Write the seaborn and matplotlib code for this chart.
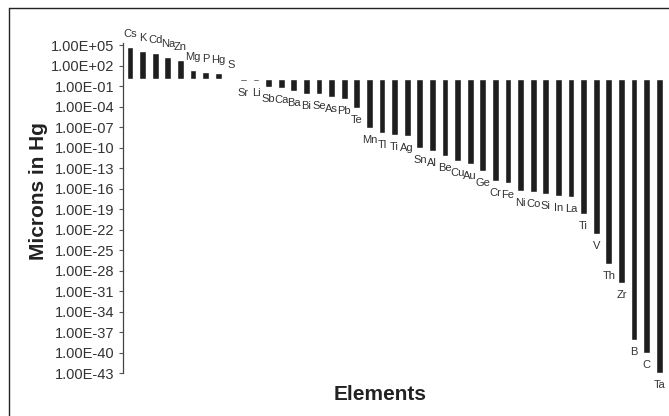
import numpy as np
import pandas as pd
import matplotlib
matplotlib.use('Agg')
import matplotlib.pyplot as plt
from matplotlib.lines import Line2D
import seaborn as sns

# vapour pressure, as log10 of microns Hg (bars hang from 1.00E+00)
elements = ['Cs', 'K', 'Cd', 'Na', 'Zn', 'Mg', 'P', 'Hg', 'S', 'Sr', 'Li',
            'Sb', 'Ca', 'Ba', 'Bi', 'Se', 'As', 'Pb', 'Te', 'Mn', 'Tl', 'Ti',
            'Ag', 'Sn', 'Al', 'Be', 'Cu', 'Au', 'Ge', 'Cr', 'Fe', 'Ni', 'Co',
            'Si', 'In', 'La', 'Ti', 'V', 'Th', 'Zr', 'B', 'C', 'Ta']
log_pressure = [4.7, 4.1, 3.8, 3.2, 2.8, 1.3, 1.0, 0.9, 0.25, -0.25, -0.3,
                -1.1, -1.3, -1.7, -2.2, -2.2, -2.6, -2.9, -4.2, -7.2, -7.9, -8.1,
                -8.3, -10.1, -10.5, -11.3, -12.0, -12.4, -13.5, -14.9, -15.2, -16.4, -16.5,
                -16.8, -17.1, -17.3, -19.8, -22.7, -27.1, -29.9, -38.2, -40.0, -43.0]
tick_exp = list(range(5, -44, -3))
tick_labels = ['1.00E%+03d' % e for e in tick_exp]

data = pd.DataFrame({'pos': range(len(elements)),
                     'element': elements,
                     'value': log_pressure})

sns.set_style('white')
plt.rcParams['font.family'] = ['Liberation Sans', 'DejaVu Sans']

fig = plt.figure(figsize=(6.69, 4.16), dpi=100)
ax = fig.add_axes([123 / 669, 1 - 373 / 416, 543 / 669, 330 / 416])

sns.barplot(data=data, x='pos', y='value', color='#1e1e1e', saturation=1,
            width=0.55, ax=ax)

ax.set_xlim(-0.556, 42.54)
ax.set_ylim(-43, 5.3)
ax.set_yticks(tick_exp)
ax.set_yticklabels(tick_labels, fontsize=10.5, color='#333333')
ax.set_xticks([])
ax.set_xlabel('')
ax.set_ylabel('')
ax.tick_params(axis='y', direction='out', length=3, width=0.8,
               color='#555555', pad=3, left=True)
for s in ['top', 'right', 'bottom']:
    ax.spines[s].set_visible(False)
ax.spines['left'].set_color('#444444')
ax.spines['left'].set_linewidth(0.9)

for i, row in data.iterrows():
    off = 13 if row['value'] > 0 else -12
    ax.annotate(row['element'], (row['pos'], row['value']),
                xytext=(0, off), textcoords='offset pixels',
                ha='center', va='center', fontsize=8, color='#333333',
                annotation_clip=False)

fig.text(39 / 669, 0.541, 'Microns in Hg', rotation=90, fontsize=15,
         fontweight='bold', color='#222222', ha='center', va='center')
fig.text(380 / 669, 1 - 395 / 416, 'Elements', fontsize=15,
         fontweight='bold', color='#222222', ha='center', va='center')

# frame lines of the original figure box
fig.add_artist(Line2D([9 / 669, 9 / 669], [0, 408 / 416], color='#222222',
                      lw=1, transform=fig.transFigure))
fig.add_artist(Line2D([9 / 669, 1], [408 / 416, 408 / 416], color='#222222',
                      lw=1, transform=fig.transFigure))

fig.savefig('out.png', dpi=100)
